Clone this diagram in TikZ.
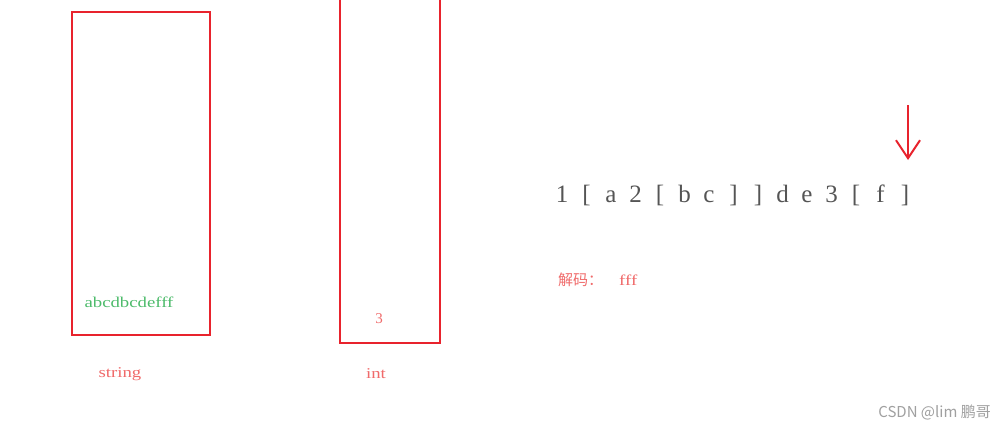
\documentclass[tikz,border=0pt]{standalone}
\usepackage{fontspec}
\usepackage{graphicx}
\setmainfont{Liberation Serif}
\newfontfamily\cjkfont{Noto Sans CJK SC}
\usetikzlibrary{arrows.meta}
\definecolor{boxred}{HTML}{E8232D}
\definecolor{labred}{HTML}{F06A6A}
\definecolor{okgreen}{HTML}{4DBB6B}
\definecolor{seqgray}{HTML}{555555}
\definecolor{wmgray}{HTML}{A0A0A0}
\newcommand{\wide}[1]{\scalebox{1.25}[1]{#1}}
\begin{document}
\begin{tikzpicture}[x=1pt,y=-1pt,
  stack/.style={draw=boxred,line width=2.2pt},
  lab/.style={text=labred,font=\fontsize{15}{15}\selectfont,inner sep=0pt},
  tok/.style={text=seqgray,font=\fontsize{25}{25}\selectfont,inner sep=0pt,anchor=base}]
\useasboundingbox[fill=white] (0,0) rectangle (1007,431);
\draw[stack] (72,12) rectangle (210,335);
\draw[stack] (340,-5) rectangle (440,343);
\node[text=okgreen,font=\fontsize{15}{15}\selectfont,inner sep=0pt] (str) at (129,302) {\wide{abcdbcdefff}};
\node[lab] (three) at (379,319) {3};
\node[lab] (strlab) at (120,374) {\wide{string}};
\node[lab] (intlab) at (376,374) {\wide{int}};
\foreach \t [count=\i from 0] in {1,[,a,2,[,b,c,],],d,e,3,[,f,]}{
  \node[tok] (t\i) at ({562+24.5*\i},202) {\t};
}
\coordinate (arrtop) at (908,105);
\coordinate (arrbot) at (908,160);
\draw[boxred,line width=2pt,-{Straight Barb[length=18pt,width=24pt]}] (arrtop) -- (arrbot);
\node[lab,anchor=west] (dec) at (558,280) {{\cjkfont 解码：}\hspace{16pt}\wide{fff}};
\node[text=wmgray,font=\cjkfont\fontsize{15}{15}\selectfont,inner sep=0pt,anchor=east] (wm) at (991,413) {CSDN @lim 鹏哥};
\end{tikzpicture}
\end{document}
